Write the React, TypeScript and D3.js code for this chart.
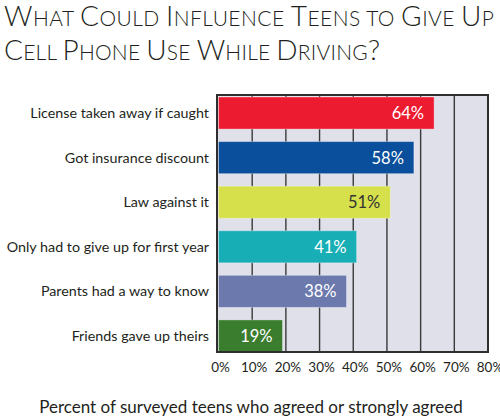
import * as d3 from "d3";
import { useEffect, useRef } from "react";

const categories = [
  "License taken away if caught",
  "Got insurance discount",
  "Law against it",
  "Only had to give up for first year",
  "Parents had a way to know",
  "Friends gave up theirs",
];
const values = [64, 58, 51, 41, 38, 19];
const barColors = ["#ec1b30", "#0a4f9b", "#d5e04b", "#17aeb6", "#6c79ad", "#3b7d2e"];
const labelColors = ["#fff", "#fff", "#333", "#fff", "#fff", "#fff"];
const ticks = [0, 10, 20, 30, 40, 50, 60, 70, 80];
const titleLines = ["What Could Influence Teens to Give Up", "Cell Phone Use While Driving?"];
const xTitle = "Percent of surveyed teens who agreed or strongly agreed";

const W = 500;
const H = 419;
const FONT = "Lato, 'Noto Sans', sans-serif";

// split a line into runs of "big" (real capitals) and "small" caps
function smallCapRuns(line: string) {
  const runs: { big: boolean; text: string }[] = [];
  for (const ch of line) {
    const big = ch === "?" || (ch === ch.toUpperCase() && ch !== ch.toLowerCase());
    const last = runs[runs.length - 1];
    if (ch === " " && last) last.text += " ";
    else if (last && last.big === big) last.text += ch.toUpperCase();
    else runs.push({ big, text: ch.toUpperCase() });
  }
  return runs;
}

export default function App() {
  const svgRef = useRef<SVGSVGElement>(null);

  useEffect(() => {
    if (!svgRef.current) return;
    const svg = d3.select(svgRef.current);
    svg.selectAll("*").remove();

    const frame = { left: 217, right: 488, top: 95, bottom: 352 };

    const x = d3.scaleLinear().domain([0, 80]).range([218.5, 488]);
    const y = d3
      .scaleBand<string>()
      .domain(categories)
      .range([97, 352])
      .paddingInner(0.28)
      .paddingOuter(0);

    // Title: one text per small-caps run, spread to the reference widths
    const titleWidths = [490, 376];
    const title = svg
      .append("g")
      .style("font-family", FONT)
      .style("font-weight", 300)
      .style("fill", "#231f20");
    titleLines.forEach((line, li) => {
      const baseY = 26 + li * 34;
      const runs = smallCapRuns(line);
      const nodes = runs.map((r) =>
        title
          .append("text")
          .attr("y", baseY)
          .style("white-space", "pre")
          .style("font-size", r.big ? "28px" : "21px")
          .text(r.text),
      );
      const widths = nodes.map((n) => (n.node() as SVGTextElement).getComputedTextLength());
      const ls = (titleWidths[li] - d3.sum(widths)) / (line.length - 1);
      let cursor = 4;
      nodes.forEach((n, i) => {
        n.attr("x", cursor).style("letter-spacing", `${ls}px`);
        cursor += widths[i] + ls * runs[i].text.length;
      });
    });

    // Plot background
    svg
      .append("rect")
      .attr("x", frame.left)
      .attr("y", frame.top)
      .attr("width", frame.right - frame.left)
      .attr("height", frame.bottom - frame.top)
      .attr("fill", "#dfe0ea");

    // Gridlines
    svg
      .append("g")
      .selectAll("line")
      .data(ticks.slice(1, -1))
      .join("line")
      .attr("x1", (d) => x(d))
      .attr("x2", (d) => x(d))
      .attr("y1", frame.top)
      .attr("y2", frame.bottom)
      .attr("stroke", "#3a3a3a")
      .attr("stroke-width", 1.4);

    // Bars
    const bars = svg.append("g");
    bars
      .selectAll("rect")
      .data(values)
      .join("rect")
      .attr("x", x(0))
      .attr("y", (_, i) => y(categories[i])!)
      .attr("width", (d) => x(d) - x(0))
      .attr("height", y.bandwidth())
      .attr("fill", (_, i) => barColors[i])
      .attr("stroke", "rgba(255,255,255,0.35)")
      .attr("stroke-width", 1);

    bars
      .selectAll("text")
      .data(values)
      .join("text")
      .attr("x", (d) => x(d) - 10)
      .attr("y", (_, i) => y(categories[i])! + y.bandwidth() / 2 + 6)
      .attr("text-anchor", "end")
      .style("font-family", FONT)
      .style("font-size", "16.5px")
      .style("fill", (_, i) => labelColors[i])
      .text((d) => `${d}%`);

    // Frame
    svg
      .append("rect")
      .attr("x", frame.left)
      .attr("y", frame.top)
      .attr("width", frame.right - frame.left)
      .attr("height", frame.bottom - frame.top)
      .attr("fill", "none")
      .attr("stroke", "#2e2e2e")
      .attr("stroke-width", 2);

    // Category labels
    svg
      .append("g")
      .selectAll("text")
      .data(categories)
      .join("text")
      .attr("x", 209)
      .attr("y", (d) => y(d)! + y.bandwidth() / 2 + 5)
      .attr("text-anchor", "end")
      .style("font-family", FONT)
      .style("font-size", "14.3px")
      .style("fill", "#231f20")
      .text((d) => d);

    // X tick labels
    svg
      .append("g")
      .selectAll("text")
      .data(ticks)
      .join("text")
      .attr("x", (d) => x(d) + 2)
      .attr("y", 372)
      .attr("text-anchor", "middle")
      .style("font-family", FONT)
      .style("font-size", "13.5px")
      .style("fill", "#231f20")
      .text((d) => `${d}%`);

    // X axis title
    svg
      .append("text")
      .attr("x", 251)
      .attr("y", 413)
      .attr("text-anchor", "middle")
      .style("font-family", FONT)
      .style("font-size", "17px")
      .style("fill", "#231f20")
      .text(xTitle);
  }, []);

  return (
    <svg
      ref={svgRef}
      width={W}
      height={H}
      style={{ position: "fixed", top: 0, left: 0, background: "#fff" }}
    />
  );
}
